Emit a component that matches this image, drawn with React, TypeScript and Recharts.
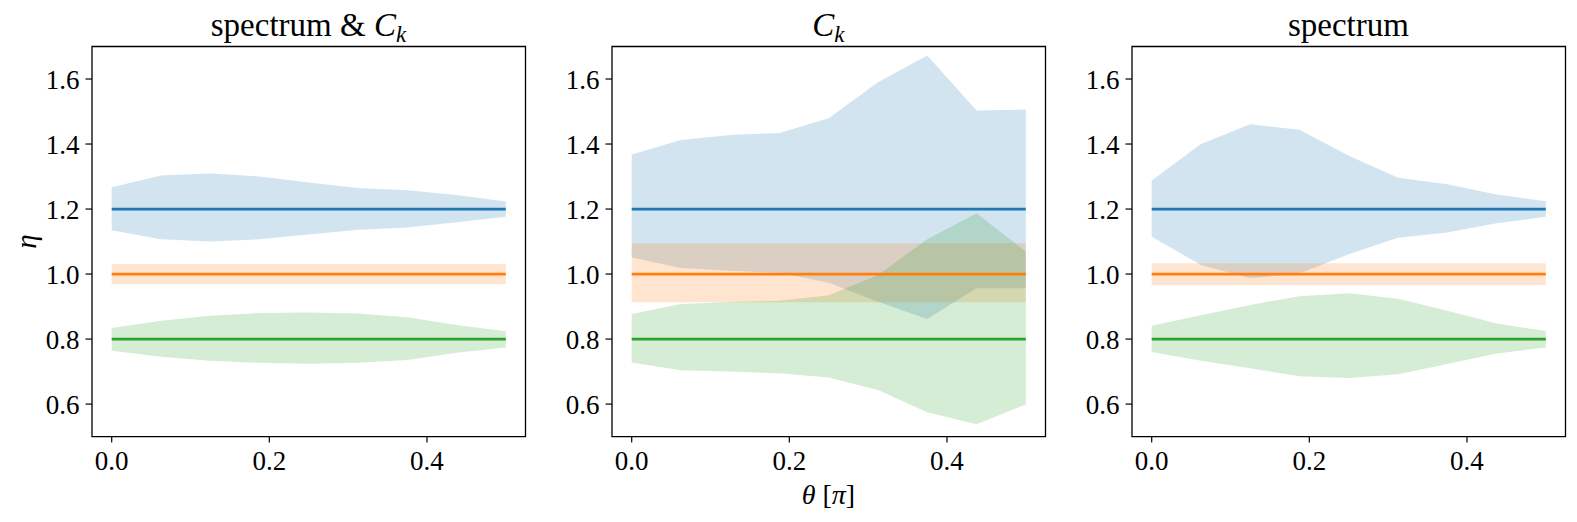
import React from 'react';
import { ComposedChart, XAxis, YAxis, Area, Line, ReferenceArea } from 'recharts';

const theta = [0, 0.0625, 0.125, 0.1875, 0.25, 0.3125, 0.375, 0.4375, 0.5];
const xTicks = [0, 0.2, 0.4];
const yTicks = [0.6, 0.8, 1.0, 1.2, 1.4, 1.6];

const blueMean = [1.2, 1.2, 1.2, 1.2, 1.2, 1.2, 1.2, 1.2, 1.2];
const orangeMean = [1.0, 1.0, 1.0, 1.0, 1.0, 1.0, 1.0, 1.0, 1.0];
const greenMean = [0.8, 0.8, 0.8, 0.8, 0.8, 0.8, 0.8, 0.8, 0.8];

// panel 1: spectrum & C_k
const blueHi1 = [1.267, 1.303, 1.309, 1.3, 1.282, 1.265, 1.258, 1.243, 1.223];
const blueLo1 = [1.135, 1.107, 1.1, 1.107, 1.122, 1.136, 1.143, 1.159, 1.176];
const orangeHi1 = [1.031, 1.031, 1.031, 1.031, 1.031, 1.031, 1.031, 1.031, 1.031];
const orangeLo1 = [0.969, 0.969, 0.969, 0.969, 0.969, 0.969, 0.969, 0.969, 0.969];
const greenHi1 = [0.834, 0.856, 0.872, 0.88, 0.882, 0.879, 0.867, 0.843, 0.824];
const greenLo1 = [0.764, 0.746, 0.733, 0.727, 0.724, 0.727, 0.736, 0.758, 0.774];

// panel 2: C_k
const blueHi2 = [1.368, 1.412, 1.428, 1.434, 1.479, 1.59, 1.672, 1.503, 1.506];
const blueLo2 = [1.051, 1.019, 1.01, 1.004, 0.973, 0.915, 0.862, 0.956, 0.956];
const orangeHi2 = [1.095, 1.095, 1.095, 1.095, 1.095, 1.095, 1.095, 1.095, 1.095];
const orangeLo2 = [0.913, 0.913, 0.913, 0.913, 0.913, 0.913, 0.913, 0.913, 0.913];
const greenHi2 = [0.877, 0.908, 0.914, 0.918, 0.935, 0.997, 1.107, 1.187, 1.069];
const greenLo2 = [0.728, 0.704, 0.7, 0.695, 0.682, 0.643, 0.575, 0.538, 0.599];

// panel 3: spectrum
const blueHi3 = [1.288, 1.4, 1.461, 1.444, 1.364, 1.296, 1.276, 1.245, 1.224];
const blueLo3 = [1.115, 1.028, 0.987, 1.002, 1.061, 1.112, 1.128, 1.156, 1.176];
const orangeHi3 = [1.033, 1.033, 1.033, 1.033, 1.033, 1.033, 1.033, 1.033, 1.033];
const orangeLo3 = [0.966, 0.966, 0.966, 0.966, 0.966, 0.966, 0.966, 0.966, 0.966];
const greenHi3 = [0.841, 0.873, 0.905, 0.932, 0.941, 0.924, 0.887, 0.848, 0.825];
const greenLo3 = [0.76, 0.733, 0.71, 0.686, 0.68, 0.692, 0.723, 0.756, 0.774];

const BLUE = '#1f77b4';
const ORANGE = '#ff7f0e';
const GREEN = '#2ca02c';
const FONT = '"Liberation Serif", "DejaVu Serif", serif';

function buildRows(bHi: number[], bLo: number[], oHi: number[], oLo: number[], gHi: number[], gLo: number[]) {
  return theta.map((t, i) => ({
    theta: t,
    blue: [bLo[i], bHi[i]],
    orange: [oLo[i], oHi[i]],
    green: [gLo[i], gHi[i]],
    blueMean: blueMean[i],
    orangeMean: orangeMean[i],
    greenMean: greenMean[i],
  }));
}

const rows1 = buildRows(blueHi1, blueLo1, orangeHi1, orangeLo1, greenHi1, greenLo1);
const rows2 = buildRows(blueHi2, blueLo2, orangeHi2, orangeLo2, greenHi2, greenLo2);
const rows3 = buildRows(blueHi3, blueLo3, orangeHi3, orangeLo3, greenHi3, greenLo3);

const PLOT_W = 433.5;
const PLOT_TOP = 46.5;
const PLOT_BOTTOM = 436.6;
const LEFT_PAD = 90;
const H = 522;
const X_AXIS_H = 45;

const tickStyle = { fill: '#000', fontSize: 27, fontFamily: FONT };

function Panel({ plotLeft, rows }: { plotLeft: number; rows: any[] }) {
  return (
    <div style={{ position: 'absolute', left: plotLeft - LEFT_PAD, top: 0 }}>
      <ComposedChart
        width={PLOT_W + LEFT_PAD + 10}
        height={H}
        data={rows}
        margin={{ top: PLOT_TOP, right: 10, bottom: H - PLOT_BOTTOM - X_AXIS_H, left: 30 }}
      >
        <XAxis
          type="number"
          dataKey="theta"
          domain={[-0.025, 0.525]}
          ticks={xTicks}
          allowDataOverflow
          tickFormatter={(v: number) => v.toFixed(1)}
          axisLine={false}
          tickLine={{ stroke: '#000', strokeWidth: 1.2 }}
          tickSize={6}
          tickMargin={8}
          tick={tickStyle}
          height={X_AXIS_H}
          interval={0}
        />
        <YAxis
          type="number"
          domain={[0.5, 1.7]}
          ticks={yTicks}
          allowDataOverflow
          tickFormatter={(v: number) => v.toFixed(1)}
          axisLine={false}
          tickLine={{ stroke: '#000', strokeWidth: 1.2 }}
          tickSize={6.5}
          tickMargin={6}
          tick={tickStyle}
          width={60}
          interval={0}
        />
        <Area dataKey="blue" type="linear" stroke="none" fill={BLUE} fillOpacity={0.2} isAnimationActive={false} activeDot={false} />
        <Area dataKey="orange" type="linear" stroke="none" fill={ORANGE} fillOpacity={0.2} isAnimationActive={false} activeDot={false} />
        <Area dataKey="green" type="linear" stroke="none" fill={GREEN} fillOpacity={0.2} isAnimationActive={false} activeDot={false} />
        <Line dataKey="blueMean" type="linear" stroke={BLUE} strokeWidth={2.7} dot={false} activeDot={false} isAnimationActive={false} />
        <Line dataKey="orangeMean" type="linear" stroke={ORANGE} strokeWidth={2.7} dot={false} activeDot={false} isAnimationActive={false} />
        <Line dataKey="greenMean" type="linear" stroke={GREEN} strokeWidth={2.7} dot={false} activeDot={false} isAnimationActive={false} />
        <ReferenceArea x1={-0.025} x2={0.525} y1={0.5} y2={1.7} fill="none" fillOpacity={0} stroke="#000" strokeWidth={1.3} ifOverflow="visible" />
      </ComposedChart>
    </div>
  );
}

const PANEL_LEFTS = [91.7, 611.7, 1131.7];

export default function App() {
  const cx = PANEL_LEFTS.map((l) => l + PLOT_W / 2);
  return (
    <div style={{ position: 'absolute', left: 0, top: 0, width: 1577, height: 522, background: '#fff' }}>
      <Panel plotLeft={PANEL_LEFTS[0]} rows={rows1} />
      <Panel plotLeft={PANEL_LEFTS[1]} rows={rows2} />
      <Panel plotLeft={PANEL_LEFTS[2]} rows={rows3} />
      <svg width={1577} height={522} style={{ position: 'absolute', left: 0, top: 0, pointerEvents: 'none' }}>
        <text x={cx[0]} y={36} textAnchor="middle" fontSize={33} fontFamily={FONT} fill="#000">
          spectrum &amp; <tspan fontStyle="italic">C</tspan>
          <tspan fontStyle="italic" fontSize={23} dy={6}>k</tspan>
        </text>
        <text x={cx[1]} y={36} textAnchor="middle" fontSize={33} fontFamily={FONT} fill="#000">
          <tspan fontStyle="italic">C</tspan>
          <tspan fontStyle="italic" fontSize={23} dy={6}>k</tspan>
        </text>
        <text x={cx[2]} y={36} textAnchor="middle" fontSize={33} fontFamily={FONT} fill="#000">
          spectrum
        </text>
        <text x={cx[1]} y={504} textAnchor="middle" fontSize={28} fontFamily={FONT} fill="#000">
          <tspan fontStyle="italic">θ</tspan> [<tspan fontStyle="italic">π</tspan>]
        </text>
        <text
          x={36}
          y={241.5}
          textAnchor="middle"
          fontSize={29}
          fontFamily={FONT}
          fontStyle="italic"
          fill="#000"
          transform="rotate(-90 36 241.5)"
        >
          η
        </text>
      </svg>
    </div>
  );
}
